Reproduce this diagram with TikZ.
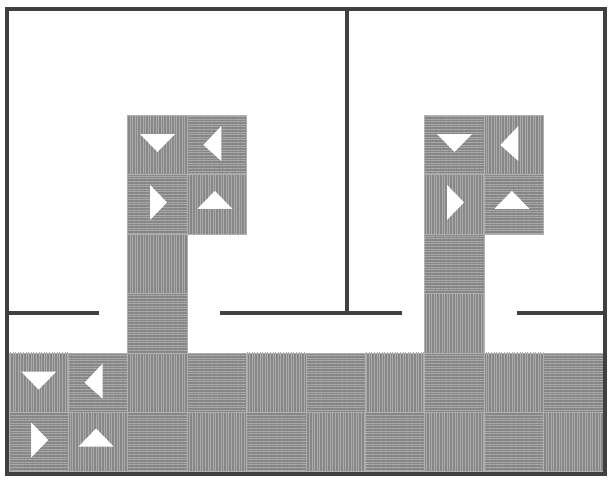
\documentclass[tikz,border=0pt]{standalone}
\usetikzlibrary{patterns.meta}
\definecolor{wallc}{HTML}{404040}
\definecolor{tilebase}{HTML}{878787}
\definecolor{tileline}{HTML}{ABABAB}
\definecolor{tileedge}{HTML}{B0B0B0}
\tikzset{
  wall/.style={draw=wallc,line width=4pt},
  vstripe/.style={pattern={Lines[angle=90,distance=2.6pt,line width=0.9pt]},pattern color=tileline},
  hstripe/.style={pattern={Lines[angle=0,distance=2.6pt,line width=0.9pt]},pattern color=tileline},
  tri/.style={fill=white},
}
\newcommand\tilecell[2]{%
  \pgfmathsetmacro\tilex{9+59.4*#1}%
  \pgfmathsetmacro\tiley{115.3+59.4*#2}%
  \pgfmathtruncatemacro\tilepar{mod(#1+#2,2)}%
  \ifnum\tilepar=0 \def\tilestyle{vstripe}\else\def\tilestyle{hstripe}\fi
  \fill[tilebase] (\tilex,\tiley) rectangle ++(59.4,59.4);
  \fill[\tilestyle] (\tilex,\tiley) rectangle ++(59.4,59.4);
  \draw[tileedge,line width=0.8pt] (\tilex,\tiley) rectangle ++(59.4,59.4);
}
\newcommand\arrowblock[2]{%
  \pgfmathsetmacro\bx{9+59.4*#1+29.7}%
  \pgfmathsetmacro\by{115.3+59.4*#2+29.7}%
  % down (top-left)
  \fill[tri] (\bx-17.5,\by-11) -- (\bx+17.5,\by-11) -- (\bx,\by+7) -- cycle;
  % left (top-right)
  \fill[tri] (\bx+59.4-13.5,\by) -- (\bx+59.4+4.5,\by-19) -- (\bx+59.4+4.5,\by+16) -- cycle;
  % right (bottom-left)
  \fill[tri] (\bx-7.5,\by+59.4-19.5) -- (\bx+9.5,\by+59.4-2) -- (\bx-7.5,\by+59.4+15.5) -- cycle;
  % up (bottom-right)
  \fill[tri] (\bx+59.4-19.5,\by+59.4+4.5) -- (\bx+59.4+15.5,\by+59.4+4.5) -- (\bx+59.4-2,\by+59.4-13.5) -- cycle;
}
\begin{document}
\begin{tikzpicture}[x=1pt,y=-1pt]
\useasboundingbox (0,0) rectangle (615,483);
\fill[white] (0,0) rectangle (615,483);
% floor tiles
\foreach \c in {0,...,9}{\foreach \r in {4,5}{\tilecell{\c}{\r}}}
\foreach \r in {0,...,3}{\tilecell{2}{\r}\tilecell{7}{\r}}
\foreach \r in {0,1}{\tilecell{3}{\r}\tilecell{8}{\r}}
% arrow marks
\arrowblock{2}{0}
\arrowblock{7}{0}
\arrowblock{0}{4}
% walls
\draw[wall,line width=3.6pt] (347,8.7) -- (347,313);
\draw[wall] (7,313) -- (99,313);
\draw[wall] (220,313) -- (401.7,313);
\draw[wall] (517,313) -- (605,313);
\draw[wall,line join=miter] (7,8.7) rectangle (605,473.7);
\end{tikzpicture}
\end{document}
